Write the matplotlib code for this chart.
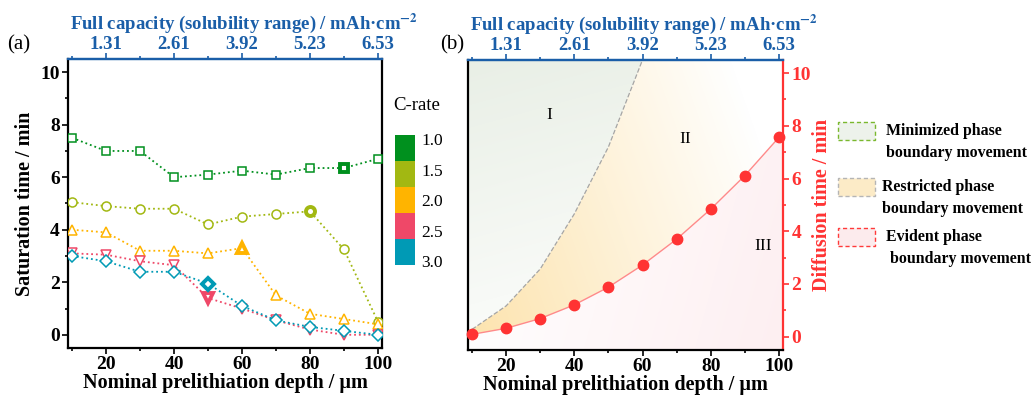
import numpy as np
import matplotlib.pyplot as plt
from matplotlib.patches import Rectangle, Polygon
from matplotlib.ticker import MultipleLocator, FixedLocator

plt.rcParams["font.family"] = ["Liberation Serif", "DejaVu Serif"]
plt.rcParams["mathtext.fontset"] = "stix"

# ---- data ----
depth = [10, 20, 30, 40, 50, 60, 70, 80, 90, 100]
cap_ticks = [20, 40, 60, 80, 100]
cap_labels = ["1.31", "2.61", "3.92", "5.23", "6.53"]

c_rates = ["1.0", "1.5", "2.0", "2.5", "3.0"]
sat_10 = [7.5, 7.0, 7.0, 6.0, 6.1, 6.25, 6.1, 6.35, 6.35, 6.7]
sat_15 = [5.05, 4.9, 4.8, 4.8, 4.2, 4.5, 4.6, 4.7, 3.25, 0.5]
sat_20 = [4.0, 3.9, 3.2, 3.2, 3.1, 3.3, 1.5, 0.8, 0.6, 0.4]
sat_25 = [3.1, 3.05, 2.8, 2.65, 1.4, 1.0, 0.55, 0.2, 0.0, 0.0]
sat_30 = [3.0, 2.8, 2.4, 2.4, 1.95, 1.1, 0.55, 0.3, 0.15, 0.0]
# index of the highlighted (thick) marker per series
sat_hl = [8, 7, 5, 4, 4]

diff_time = [0.09, 0.32, 0.69, 1.21, 1.88, 2.72, 3.70, 4.84, 6.11, 7.56]
bound_x = [10, 20, 30, 40, 50, 60]
bound_y = [0.28, 1.17, 2.57, 4.66, 7.2, 10.5]

colors = ["#00901e", "#a2b812", "#ffb400", "#ef4868", "#009ab5"]
markers = ["s", "o", "^", "v", "D"]
msizes = [6, 6.5, 7.5, 7.5, 6]
BLUE = "#1a5ea8"
RED = "#ff3333"
XL = (8.8, 101.2)
YL = (-0.5, 10.5)

fig = plt.figure(figsize=(10.33, 3.99), dpi=100)
ax1 = fig.add_axes([0.0658, 0.128, 0.304, 0.724])
ax2 = fig.add_axes([0.453, 0.123, 0.305, 0.727])


def style_x(ax):
    ax.set_xlim(*XL)
    ax.set_ylim(*YL)
    ax.xaxis.set_major_locator(FixedLocator(cap_ticks))
    ax.xaxis.set_minor_locator(FixedLocator([10, 30, 50, 70, 90]))
    ax.tick_params(axis="x", which="both", direction="out", length=4, width=1.2, pad=2)
    ax.tick_params(axis="x", which="minor", length=2.5)
    for t in ax.get_xticklabels():
        t.set_fontsize(14)
        t.set_fontweight("bold")
    ax.set_xlabel("Nominal prelithiation depth / µm", fontsize=14.5,
                  fontweight="bold", labelpad=0)
    for s in ["left", "bottom", "right"]:
        ax.spines[s].set_linewidth(1.6)
    ax.spines["top"].set_color(BLUE)
    ax.spines["top"].set_linewidth(1.6)
    top = ax.secondary_xaxis("top")
    top.set_xticks(cap_ticks)
    top.set_xticklabels(cap_labels, color=BLUE, fontsize=13.5, fontweight="bold")
    top.xaxis.set_minor_locator(FixedLocator([10, 30, 50, 70, 90]))
    top.tick_params(axis="x", which="both", colors=BLUE, length=4, width=1.2, pad=0.5)
    top.tick_params(axis="x", which="minor", length=2.5)
    top.spines["top"].set_color(BLUE)
    top.spines["top"].set_linewidth(1.6)
    top.set_xlabel(r"Full capacity (solubility range) / mAh·cm$^{\mathbf{-2}}$",
                   color=BLUE, fontsize=13.5, fontweight="bold", labelpad=5, x=0.56)


# ---- panel (a) ----
series = [sat_10, sat_15, sat_20, sat_25, sat_30]
for vals, c, m, ms, hl in zip(series, colors, markers, msizes, sat_hl):
    ax1.plot(depth, vals, ls=":", lw=1.3, color=c, marker=m, ms=ms,
             mfc="white", mec=c, mew=1.1, zorder=3)
    ax1.plot(depth[hl], vals[hl], ls="none", marker=m, ms=ms, mfc="white",
             mec=c, mew=2.8, zorder=4)

style_x(ax1)
ax1.yaxis.set_major_locator(MultipleLocator(2))
ax1.yaxis.set_minor_locator(MultipleLocator(1))
ax1.tick_params(axis="y", which="both", direction="out", length=4, width=1.2,
                labelsize=14, pad=2)
ax1.tick_params(axis="y", which="minor", length=2.5)
for t in ax1.get_yticklabels():
    t.set_fontweight("bold")
ax1.set_ylabel("Saturation time / min", fontsize=14.5, fontweight="bold", labelpad=4)
fig.text(0.007, 0.875, "(a)", fontsize=15)

# C-rate colour key
fig.text(0.381, 0.725, "C-rate", fontsize=13.5)
key_x, key_w = 395 / 1033, 20 / 1033
key_top, key_h = 1 - 135 / 399, 26 / 399
for i, c in enumerate(colors):
    y0 = key_top - (i + 1) * key_h
    fig.patches.append(Rectangle((key_x, y0), key_w, key_h, transform=fig.transFigure,
                                 facecolor=c, edgecolor="none"))
for i, lab in enumerate(c_rates):
    fig.text(421 / 1033, 1 - (141 + i * 30.5) / 399, lab, fontsize=12.5, va="center")

# ---- panel (b) ----
style_x(ax2)
ax2.spines["right"].set_color(RED)
ax2.yaxis.set_major_locator(MultipleLocator(2))
ax2.yaxis.set_minor_locator(MultipleLocator(1))
ax2.tick_params(axis="y", which="both", left=False, labelleft=False, right=True,
                labelright=True, direction="out", length=4, width=1.2,
                colors=RED, labelsize=14, pad=2)
ax2.tick_params(axis="y", which="minor", length=2.5)
for t in ax2.get_yticklabels(which="both"):
    t.set_fontweight("bold")
ax2.yaxis.set_label_position("right")
ax2.set_ylabel("Diffusion time / min", color=RED, fontsize=14.5, fontweight="bold",
               labelpad=1)
fig.text(0.426, 0.875, "(b)", fontsize=15)

# region polygons
x0, x1 = XL
y0, y1 = YL
reg1 = [(x0, y0), (x0, y1)] + [(bound_x[-1], y1)] + list(zip(bound_x, bound_y))[::-1]
reg2 = list(zip(bound_x, bound_y)) + [(x1, y1), (x1, diff_time[-1])] + \
    list(zip(depth, diff_time))[::-1]
reg3 = list(zip(depth, diff_time)) + [(x1, diff_time[-1]), (x1, y0), (x0, y0)]

gx, gy = np.meshgrid(np.linspace(0, 1, 200), np.linspace(0, 1, 200))


def shade(poly, rgb, alpha):
    img = np.zeros((200, 200, 4))
    img[..., :3] = rgb
    img[..., 3] = np.clip(alpha, 0, 1)
    p = Polygon(poly, closed=True, facecolor="none", edgecolor="none")
    ax2.add_patch(p)
    im = ax2.imshow(img, extent=(x0, x1, y0, y1), origin="lower", aspect="auto",
                    zorder=0, interpolation="bilinear")
    im.set_clip_path(p)


shade(reg1, (0.86, 0.90, 0.84), 0.12 + 0.5 * gy - 0.15 * gx)
shade(reg2, (0.99, 0.85, 0.55), 0.72 - 0.62 * gx - 0.2 * gy)
shade(reg3, (0.99, 0.86, 0.88), 0.05 + 0.4 * gx - 0.1 * gy)

ax2.plot(bound_x, bound_y, ls="--", lw=0.9, color="#a5a5a5", zorder=2)
ax2.plot(depth, diff_time, ls="-", lw=1.0, color="#ff8a8a", zorder=3)
ax2.plot(depth, diff_time, ls="none", marker="o", ms=7.5, color=RED, zorder=4,
         clip_on=False)
ax2.text(32.6, 8.4, "I", fontsize=12.5, ha="center", va="center")
ax2.text(72.6, 7.5, "II", fontsize=12.5, ha="center", va="center")
ax2.text(95.3, 3.45, "III", fontsize=12.5, ha="center", va="center")

# region legend
leg_items = [
    ("#7ab82e", (0.93, 0.95, 0.92), 122, ["Minimized phase", "boundary movement"], 886),
    ("#b5b5b5", (0.99, 0.92, 0.78), 178, ["Restricted phase", "boundary movement"], 882),
    ("#ff3a3a", (0.99, 0.92, 0.93), 228, ["Evident phase", " boundary movement"], 886),
]
for ec, fc, ytop, lines, tx in leg_items:
    fig.patches.append(Rectangle((838 / 1033, 1 - (ytop + 18) / 399), 37 / 1033, 18 / 399,
                                 transform=fig.transFigure, facecolor=fc,
                                 edgecolor=ec, ls=(0, (3, 2)), lw=1.0))
    fig.text(tx / 1033, 1 - (ytop + 9) / 399, lines[0], fontsize=11.4,
             fontweight="bold", va="center")
    fig.text(tx / 1033, 1 - (ytop + 31) / 399, lines[1], fontsize=11.4,
             fontweight="bold", va="center")

fig.savefig("out.png", dpi=100)
